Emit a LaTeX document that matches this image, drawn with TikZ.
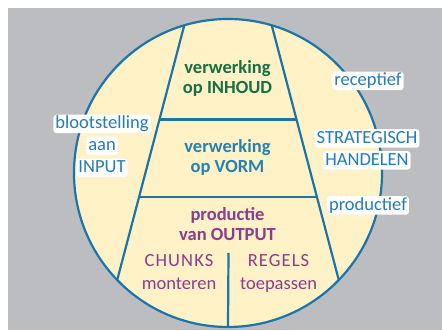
\documentclass[tikz,border=0pt]{standalone}
\usepackage{fontspec}
\setmainfont{Carlito}
\usetikzlibrary{calc,positioning}
\definecolor{bggray}{RGB}{188,189,193}
\definecolor{pale}{RGB}{255,242,199}
\definecolor{rim}{RGB}{28,116,168}
\definecolor{inhoudgreen}{RGB}{22,110,66}
\definecolor{vormblue}{RGB}{38,128,178}
\definecolor{outputpurple}{RGB}{140,60,140}
\definecolor{tagblue}{RGB}{36,124,180}

\begin{document}
\begin{tikzpicture}[x=1pt,y=1pt,
    rim/.style={draw=rim, line width=2.2pt, line cap=butt, line join=round},
    layer/.style={anchor=north, align=center,
      font=\fontsize{18.5}{20}\selectfont\bfseries},
    skill/.style={anchor=north, align=center, text=outputpurple,
      font=\fontsize{18.5}{23.5}\selectfont},
    tag/.style={fill=white, text=tagblue, rounded corners=3pt,
      inner xsep=2pt, inner ysep=1pt, text height=13pt, text depth=3.5pt,
      font=\fontsize{18.5}{20}\selectfont}]
          \useasboundingbox (0,0) rectangle (442,331);
          \fill[bggray] (8,1) rectangle (442,323);

          % the disc and its sides
          \coordinate (O) at (228,158); \coordinate (A) at ($(O)+(106.5:154)$);
          \coordinate (B) at ($(O)+(224:154)$); \coordinate (C) at
          ($(O)+(73.5:154)$); \coordinate (D) at ($(O)+(316:154)$);
          \coordinate (E) at ($(A)!0.37!(B)$); \coordinate (F) at
          ($(C)!0.37!(D)$); \coordinate (G) at ($(A)!0.675!(B)$);
          \coordinate (H) at ($(C)!0.675!(D)$); \coordinate (K) at
          (228.5,78); \coordinate (L) at ($(O)+(270:154)$);

        \fill[pale] (O) circle[radius=154];
          \draw[rim] (A) -- (B); \draw[rim] (C) -- (D);
          \draw[rim] (E) -- (F); \draw[rim] (G) -- (H);
          \draw[rim] (K) -- (L);
          \draw[rim] (O) circle[radius=154];

          % inside the trapezium
          \node[layer, text=inhoudgreen] (inhoud) at (227.5,273.8)
          {verwerking\\op INHOUD};
          \node[layer, text=vormblue] (vorm) at (227.5,195.4)
          {verwerking\\op VORM};
          \node[layer, text=outputpurple] (output) at (227.5,127.1)
          {productie\\van OUTPUT};
          \node[skill] (chunks) at (179,80.1)
          {{\addfontfeature{LetterSpace=6}CHUNKS}\\monteren};
          \node[skill] (regels) at (278.5,80.1)
          {{\addfontfeature{LetterSpace=6}REGELS}\\toepassen};

          % labels on the rim
          \node[tag] (bloot) at (102,207) {blootstelling};
          \node[tag, below=3pt of bloot] (aan) {aan};
          \node[tag, below=3pt of aan] (input) {INPUT};
          \node[tag] (recep) at (368,250) {receptief};
          \node[tag] (strat) at (367,192.5) {STRATEGISCH};
          \node[tag, below=3pt of strat] (hand) {HANDELEN};
          \node[tag] (prod) at (368,125.5) {productief};
        \end{tikzpicture}
\end{document}
